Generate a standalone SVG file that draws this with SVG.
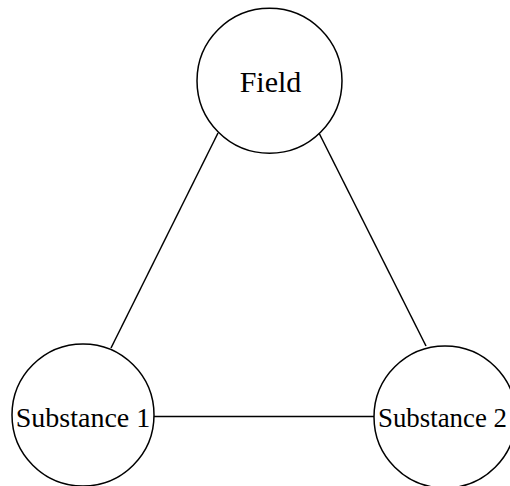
<svg xmlns="http://www.w3.org/2000/svg" width="510" height="486" viewBox="0 0 510 486">
<style>
.node circle{fill:#fff;stroke:#000;stroke-width:1.5}
.node text{font-family:"Liberation Serif","Times New Roman",serif;font-size:28px;fill:#000;text-anchor:middle}
.edges line{stroke:#000;stroke-width:1.5}
</style>
<rect width="510" height="486" fill="#fff"/>
<g class="edges">
<line x1="218" y1="133" x2="111" y2="348"/>
<line x1="319" y1="133" x2="426" y2="346"/>
<line x1="154" y1="416.5" x2="374" y2="416.5"/>
</g>
<g id="field" class="node"><circle cx="269.5" cy="80.7" r="72.5"/><text x="270.5" y="91.7" style="font-size:30px">Field</text></g>
<g id="substance1" class="node"><circle cx="83" cy="415" r="71"/><text x="83" y="427">Substance 1</text></g>
<g id="substance2" class="node"><circle cx="445" cy="417" r="71"/><text x="378" y="427" style="text-anchor:start" textLength="129" lengthAdjust="spacingAndGlyphs">Substance 2</text></g>
</svg>
